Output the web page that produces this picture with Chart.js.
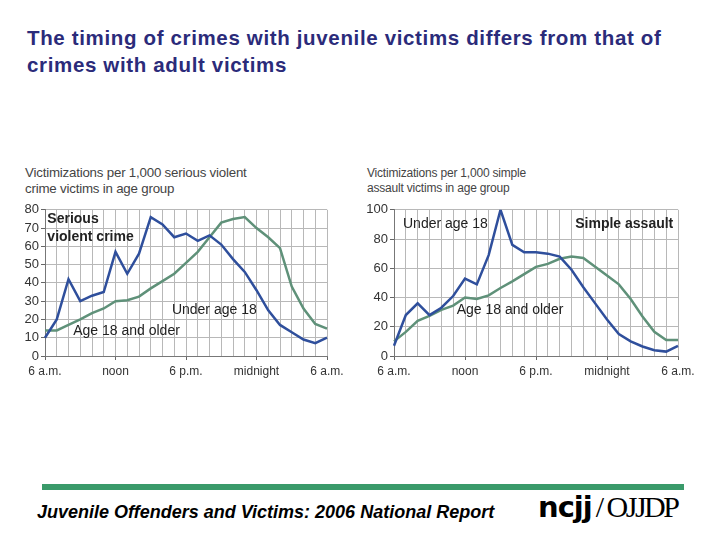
<!DOCTYPE html>
<html lang="en">
<head>
<meta charset="UTF-8">
<title>timing of crimes by victim age</title>
<script src="https://cdn.jsdelivr.net/npm/chart.js"></script>
<style>
    body { margin: 0; width: 720px; height: 540px; position: relative; overflow: hidden; background: #fff; font-family: "Liberation Sans", Arial, sans-serif; }
    .title { position: absolute; left: 27px; top: 24px; color: #2b2b7a; font-size: 20.5px; font-weight: bold; line-height: 27px; letter-spacing: 0.65px; white-space: nowrap; }
    .ytitle { position: absolute; font-size: 12px; color: #444; line-height: 15px; letter-spacing: -0.2px; white-space: nowrap; }
    .box { position: absolute; }
    .bar { position: absolute; left: 42px; top: 484px; width: 642px; height: 6px; background: #3a9a6a; }
    .foot { position: absolute; left: 37px; top: 502px; font-size: 18px; font-weight: bold; font-style: italic; white-space: nowrap; }
    .logo { position: absolute; left: 538px; top: 490px; height: 32px; white-space: nowrap; }
    .logo .a { font-family: "DejaVu Sans", sans-serif; font-weight: bold; font-size: 29px; letter-spacing: -1px; }
    .logo .b { font-family: "Liberation Serif", serif; font-size: 30px; letter-spacing: -2.5px; margin-left: 4px; }
</style>
</head>
<body>
<div class="title">The timing of crimes with juvenile victims differs from that of<br>crimes with adult victims</div>

<div class="ytitle" style="left:25px; top:165px; font-size:13.3px; line-height:16px;">Victimizations per 1,000 serious violent<br>crime victims in age group</div>
<div class="ytitle" style="left:367px; top:166px;">Victimizations per 1,000 simple<br>assault victims in age group</div>

<div class="box" style="left:20px; top:200px;"><canvas id="left" width="340" height="185"></canvas></div>
<div class="box" style="left:360px; top:200px;"><canvas id="right" width="360" height="185"></canvas></div>

<div class="bar"></div>
<div class="foot">Juvenile Offenders and Victims: 2006 National Report</div>
<div class="logo"><span class="a">ncjj</span><span class="b">/ OJJDP</span></div>

<script>
    // hours of the day, 6 a.m. to 6 a.m.
    const hours = ['6 a.m.', '7 a.m.', '8 a.m.', '9 a.m.', '10 a.m.', '11 a.m.', 'noon',
        '1 p.m.', '2 p.m.', '3 p.m.', '4 p.m.', '5 p.m.', '6 p.m.',
        '7 p.m.', '8 p.m.', '9 p.m.', '10 p.m.', '11 p.m.', 'midnight',
        '1 a.m.', '2 a.m.', '3 a.m.', '4 a.m.', '5 a.m.', '6 a.m.'];

    // serious violent crime
    const violentUnder18 = [10, 20, 42, 30, 33, 35, 57, 45, 56, 76, 72, 65, 67, 63, 66, 61, 53, 46, 36, 25, 17, 13, 9, 7, 10];
    const violent18Plus = [14, 14, 17, 20, 23.5, 26, 30, 30.5, 32.5, 37, 41, 45, 51, 57, 65, 73, 75, 76, 70, 65, 59, 38, 26, 17.5, 15];

    // simple assault
    const assaultUnder18 = [7, 28, 36, 28, 33, 41, 53, 49, 69, 100, 76, 71, 71, 70, 68, 59, 47, 36, 25, 15, 10, 6.5, 4, 3, 7];
    const assault18Plus = [10, 16.5, 24, 27.5, 31.5, 34.5, 40, 39, 41.5, 46.5, 51, 56, 61, 63, 66.5, 68, 67, 61, 55, 49, 39, 27, 16.5, 11, 11];

    const BLUE = '#2f4f9c';
    const GREEN = '#5f9179';

    // draws the in-chart labels at data positions
    const notes = {
        id: 'notes',
        afterDatasetsDraw(chart, args, opts) {
            const { ctx, scales: { x, y } } = chart;
            ctx.save();
            ctx.fillStyle = '#222';
            ctx.textBaseline = 'middle';
            opts.items.forEach(n => {
                ctx.font = n.font;
                ctx.textAlign = n.align || 'left';
                ctx.fillText(n.text, x.getPixelForValue(n.x), y.getPixelForValue(n.y));
            });
            ctx.restore();
        }
    };

    function makeChart(id, under, adult, max, step, yWidth, pad, items) {
        new Chart(document.getElementById(id), {
            type: 'line',
            data: {
                labels: hours,
                datasets: [
                    { label: 'Under age 18', data: under, borderColor: BLUE, borderWidth: 2.5, pointRadius: 0, tension: 0 },
                    { label: 'Age 18 and older', data: adult, borderColor: GREEN, borderWidth: 2.5, pointRadius: 0, tension: 0 }
                ]
            },
            options: {
                responsive: false,
                animation: false,
                layout: { padding: pad },
                plugins: { legend: { display: false }, tooltip: { enabled: false }, notes: { items: items } },
                scales: {
                    x: {
                        grid: { color: '#b8b8b8', lineWidth: 1, tickLength: 4,
                            tickColor: c => c.index % 6 === 0 ? '#666' : 'rgba(0,0,0,0)' },
                        border: { color: '#777' },
                        ticks: {
                            autoSkip: false, maxRotation: 0, padding: 4, color: '#333',
                            font: { family: 'Liberation Sans', size: 12 },
                            callback: (v, i) => i % 6 === 0 ? hours[i] : ''
                        },
                        afterFit: s => { s.height = 29; }
                    },
                    y: {
                        min: 0, max: max,
                        grid: { color: '#b8b8b8', lineWidth: 1, tickLength: 4, tickColor: '#666' },
                        border: { color: '#777' },
                        ticks: { stepSize: step, autoSkip: false, padding: 2, color: '#333', font: { family: 'Liberation Sans', size: 13 } },
                        afterFit: s => { s.width = yWidth; }
                    }
                }
            },
            plugins: [notes]
        });
    }

    makeChart('left', violentUnder18, violent18Plus, 80, 10, 25, { top: 8, right: 33, left: 0, bottom: 0 }, [
        { text: 'Serious', x: 0.2, y: 75, font: 'bold 14px "Liberation Sans"' },
        { text: 'violent crime', x: 0.2, y: 65, font: 'bold 14px "Liberation Sans"' },
        { text: 'Under age 18', x: 10.8, y: 25.3, font: '14px "Liberation Sans"' },
        { text: 'Age 18 and older', x: 2.4, y: 13.6, font: '14px "Liberation Sans"' }
    ]);

    makeChart('right', assaultUnder18, assault18Plus, 100, 20, 34, { top: 7, right: 42, left: 0, bottom: 0 }, [
        { text: 'Under age 18', x: 0.76, y: 90, font: '14px "Liberation Sans"' },
        { text: 'Simple assault', x: 23.6, y: 90, font: 'bold 14px "Liberation Sans"', align: 'right' },
        { text: 'Age 18 and older', x: 5.3, y: 31.6, font: '14px "Liberation Sans"' }
    ]);
</script>
</body>
</html>
